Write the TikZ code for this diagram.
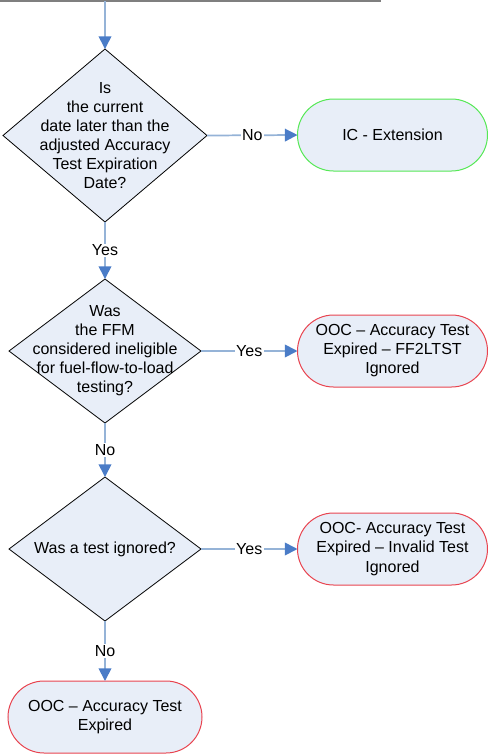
\documentclass[tikz,border=0pt]{standalone}
\usepackage{fontspec}
\setmainfont{Liberation Sans}
\usetikzlibrary{shapes.geometric,arrows.meta}
\definecolor{boxfill}{HTML}{E8EEF8}
\definecolor{linkblue}{HTML}{95B3D7}
\definecolor{tipblue}{HTML}{4A7CC7}
\definecolor{okgreen}{HTML}{55E855}
\definecolor{badred}{HTML}{E84450}
\definecolor{topgray}{HTML}{7F7F7F}
\begin{document}
\begin{tikzpicture}[x=0.75pt,y=-0.75pt,
  every node/.style={font=\fontsize{12}{14.3}\selectfont},
  diam/.style={diamond, draw=black, line width=0.6pt, fill=boxfill, inner sep=0pt, outer sep=0pt},
  dtext/.style={align=center, inner sep=0pt},
  termbox/.style={rectangle, rounded corners=27pt, fill=boxfill, line width=0.75pt, minimum height=54pt, inner sep=0pt, outer sep=0pt, align=center},
  link/.style={draw=linkblue, line width=1.3pt, -{Triangle[width=9.5pt,length=9.5pt,color=tipblue]}},
  lbl/.style={fill=white, inner sep=1pt}
]
\useasboundingbox (0,0) rectangle (488,754);

% top line
\coordinate (tl) at (0,0.8);
\coordinate (tr) at (381,0.8);
\coordinate (top) at (105,0.8);
\draw[topgray, line width=1.2pt] (tl) -- (tr);

% decisions
\node[diam, minimum width=153pt, minimum height=129.75pt] (d1) at (105,135.5) {};
\node[dtext] (d1text) at (d1.center) {Is\\the current\\date later than the\\adjusted Accuracy\\Test Expiration\\Date?};

\node[diam, minimum width=144pt, minimum height=108pt] (d2) at (105,351) {};
\node[dtext] (d2text) at (d2.center) {Was\\the FFM\\considered ineligible\\for fuel-flow-to-load\\testing?};

\node[diam, minimum width=144pt, minimum height=108pt] (d3) at (105,549) {};
\node[dtext] (d3text) at (d3.center) {Was a test ignored?};

% terminals
\node[termbox, draw=okgreen, minimum width=142.5pt] (t1) at (392.5,135) {IC - Extension};
\node[termbox, draw=badred, minimum width=142.5pt] (t2) at (392.5,351) {OOC -- Accuracy Test\\Expired -- FF2LTST\\Ignored};
\node[termbox, draw=badred, minimum width=142.5pt] (t3) at (392.5,549) {OOC- Accuracy Test\\Expired -- Invalid Test\\Ignored};
\node[termbox, draw=badred, minimum width=145.5pt] (t4) at (105,717) {OOC -- Accuracy Test\\Expired};

% connectors
\draw[link] (top) -- (d1.north);
\draw[link] (d1.east) -- node[lbl] (l1) {No} (t1.west);
\draw[link] (d1.south) -- node[lbl] (l2) {Yes} (d2.north);
\draw[link] (d2.east) -- node[lbl] (l3) {Yes} (t2.west);
\draw[link] (d2.south) -- node[lbl] (l4) {No} (d3.north);
\draw[link] (d3.east) -- node[lbl] (l5) {Yes} (t3.west);
\draw[link] (d3.south) -- node[lbl] (l6) {No} (t4.north);
\end{tikzpicture}
\end{document}
